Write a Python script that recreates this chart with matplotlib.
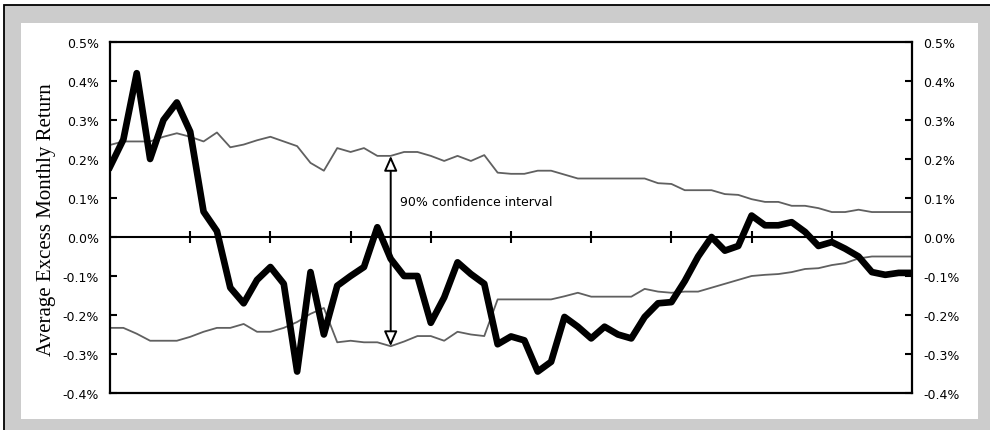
import matplotlib
matplotlib.use('Agg')
import matplotlib.pyplot as plt
import matplotlib.patches as mpatches
from matplotlib.ticker import FuncFormatter, MultipleLocator
import numpy as np

# ------------------------------------------------------------
# data (percent), one value per period
# ------------------------------------------------------------
excess_return = [
    0.18, 0.25, 0.42, 0.20, 0.30, 0.345, 0.27, 0.065, 0.015, -0.13,
    -0.17, -0.11, -0.077, -0.12, -0.345, -0.09, -0.25, -0.125, -0.10, -0.077,
    0.025, -0.056, -0.10, -0.10, -0.22, -0.155, -0.065, -0.095, -0.12, -0.275,
    -0.255, -0.265, -0.345, -0.32, -0.205, -0.23, -0.26, -0.23, -0.25, -0.26,
    -0.205, -0.17, -0.167, -0.113, -0.05, 0.0, -0.035, -0.023, 0.055, 0.03,
    0.03, 0.038, 0.013, -0.023, -0.013, -0.03, -0.05, -0.09, -0.097, -0.092,
    -0.092,
]
upper_bound = [
    0.236, 0.245, 0.245, 0.245, 0.257, 0.266, 0.257, 0.245, 0.268, 0.23,
    0.237, 0.248, 0.257, 0.245, 0.233, 0.19, 0.17, 0.228, 0.218, 0.228,
    0.208, 0.208, 0.218, 0.218, 0.208, 0.195, 0.208, 0.195, 0.21, 0.165,
    0.162, 0.162, 0.17, 0.17, 0.16, 0.15, 0.15, 0.15, 0.15, 0.15,
    0.15, 0.138, 0.136, 0.12, 0.12, 0.12, 0.11, 0.108, 0.097, 0.09,
    0.09, 0.08, 0.08, 0.074, 0.064, 0.064, 0.07, 0.064, 0.064, 0.064,
    0.064,
]
lower_bound = [
    -0.233, -0.233, -0.248, -0.266, -0.266, -0.266, -0.256, -0.243, -0.233, -0.233,
    -0.223, -0.243, -0.243, -0.233, -0.218, -0.197, -0.182, -0.27, -0.266, -0.27,
    -0.27, -0.28, -0.268, -0.254, -0.254, -0.266, -0.243, -0.25, -0.254, -0.16,
    -0.16, -0.16, -0.16, -0.16, -0.152, -0.143, -0.153, -0.153, -0.153, -0.153,
    -0.133, -0.14, -0.143, -0.14, -0.14, -0.13, -0.12, -0.11, -0.10, -0.097,
    -0.095, -0.09, -0.082, -0.08, -0.072, -0.067, -0.055, -0.05, -0.05, -0.05,
    -0.05,
]
periods = np.arange(len(excess_return))
zero_ticks = periods[6:-1:6]          # small marks on the zero line
ci_index = 21                         # where the confidence arrow sits
ci_label = '90% confidence interval'
y_label = 'Average Excess Monthly Return'

plt.rcParams.update({
    'font.family': 'DejaVu Sans',
    'font.size': 9,
})

fig = plt.figure(figsize=(9.9, 4.31), dpi=100)
fig.patch.set_facecolor('white')

# gray frame with black top/left edge, then white panel (behind the axes)
frame = mpatches.Rectangle((4 / 990, -0.05), 1.1, (425 / 431) + 0.05,
                           transform=fig.transFigure, facecolor='#cccccc',
                           edgecolor='black', lw=1.3, zorder=-2)
fig.patches.append(frame)
panel = mpatches.Rectangle((21 / 990, 11 / 431), 957 / 990, 396 / 431,
                           transform=fig.transFigure, facecolor='white',
                           edgecolor='none', zorder=-1)
fig.patches.append(panel)

ax = fig.add_axes([110 / 990, 37 / 431, 802 / 990, 351 / 431])
ax.set_zorder(2)
ax.set_facecolor('white')
ax.set_xlim(periods[0], periods[-1])
ax.set_ylim(-0.4, 0.5)

# confidence bounds and the average excess return
ax.plot(periods, upper_bound, color='#606060', lw=1.3, zorder=2)
ax.plot(periods, lower_bound, color='#606060', lw=1.3, zorder=2)
ax.axhline(0, color='black', lw=1.5, zorder=3)
ax.plot(zero_ticks, np.zeros(len(zero_ticks)), ls='none', marker='|',
        ms=9, mew=1.5, color='black', zorder=3)
ax.plot(periods, excess_return, color='black', lw=4.8,
        solid_joinstyle='round', zorder=4)

# double arrow marking the confidence band
arr = mpatches.FancyArrowPatch((ci_index, upper_bound[ci_index]),
                               (ci_index, lower_bound[ci_index]),
                               arrowstyle='<|-|>,head_length=0.9,head_width=0.4',
                               mutation_scale=10, shrinkA=0, shrinkB=0,
                               facecolor='white', edgecolor='black', lw=1.4,
                               zorder=5)
ax.add_patch(arr)
ax.text(ci_index + 0.7, 0.09, ci_label, fontsize=9, ha='left', va='center',
        zorder=6)

# axes styling: spines, inward ticks on both sides
for sp in ax.spines.values():
    sp.set_linewidth(1.6)
    sp.set_color('black')
ax.set_xticks([])
ax.yaxis.set_major_locator(MultipleLocator(0.1))
ax.yaxis.set_major_formatter(FuncFormatter(lambda v, p: f'{round(v, 1) + 0.0:.1f}%'))
ax.tick_params(axis='y', which='major', direction='in', length=5, width=1.5,
               left=True, right=True, labelleft=True, labelright=True,
               labelsize=9, pad=8)

fig.text(47 / 990, (431 - 220) / 431, y_label, rotation=90, ha='center',
         va='center', fontsize=15, family='Liberation Serif')

fig.savefig('out.png', dpi=100)
